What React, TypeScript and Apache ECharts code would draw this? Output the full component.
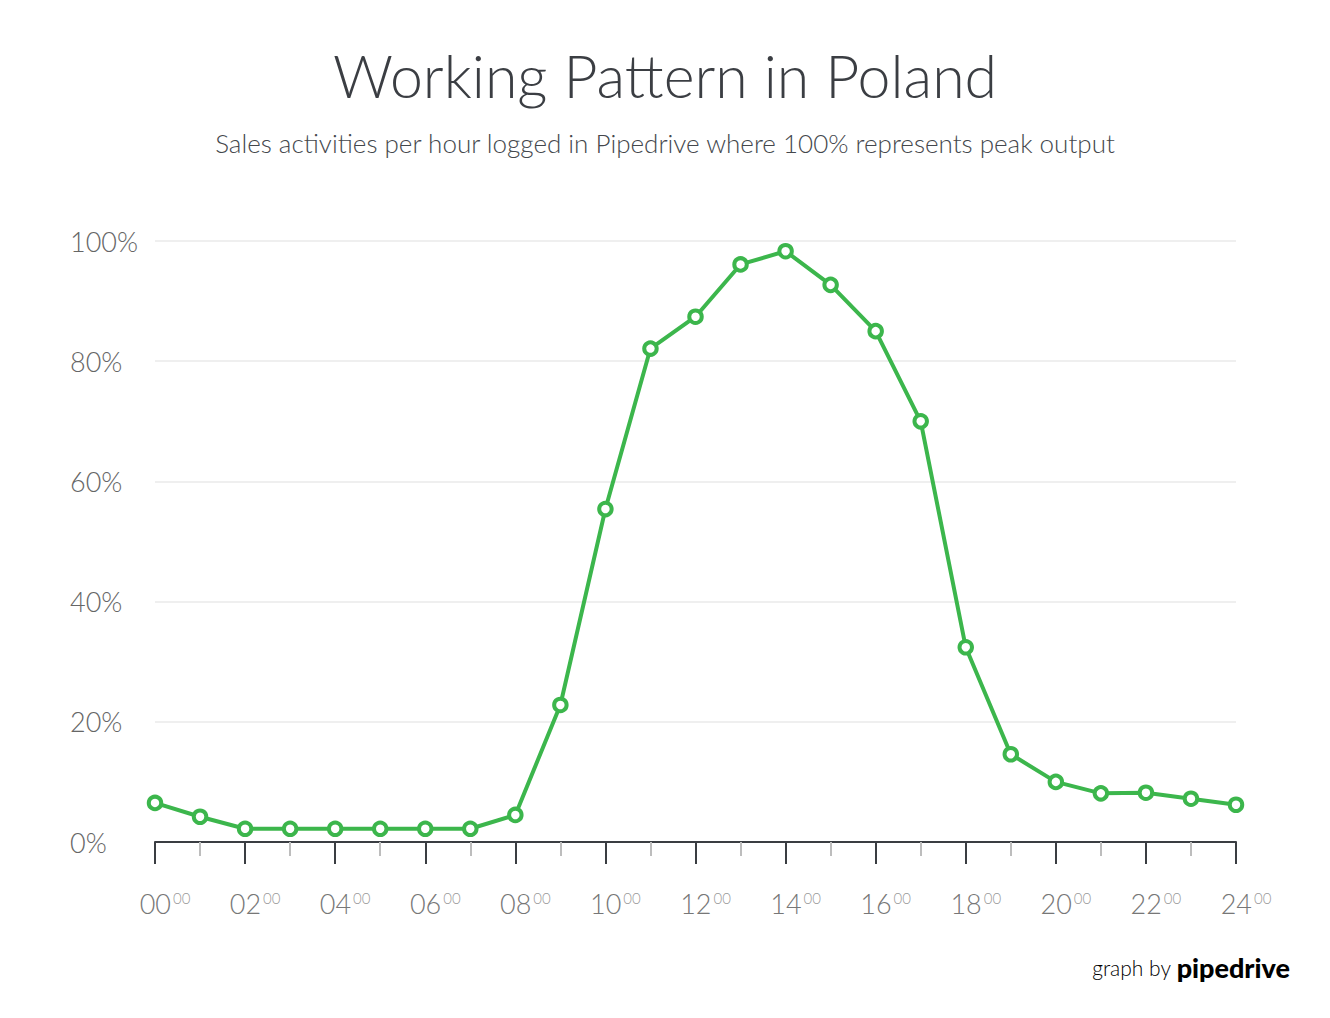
import React, { useEffect, useRef } from "react";
import * as echarts from "echarts";

const hours: number[] = [0, 1, 2, 3, 4, 5, 6, 7, 8, 9, 10, 11, 12, 13, 14, 15, 16, 17, 18, 19, 20, 21, 22, 23, 24];
const activity: number[] = [6.5, 4.2, 2.2, 2.2, 2.2, 2.2, 2.2, 2.2, 4.5, 22.8, 55.4, 82.1, 87.4, 96.1, 98.3, 92.7, 85.0, 70.0, 32.4, 14.6, 10.0, 8.1, 8.2, 7.2, 6.2];
const yTicks: number[] = [0, 20, 40, 60, 80, 100];

const titleText = "Working Pattern in Poland";
const subtitleText = "Sales activities per hour logged in Pipedrive where 100% represents peak output";

const FONT = "Lato";

export default function App() {
  const ref = useRef<HTMLDivElement>(null);
  useEffect(() => {
    document.body.style.margin = "0";
    if (!ref.current) return;
    const chart = echarts.init(ref.current, undefined, { renderer: "svg" });
    const green = "#3cb64c";
    chart.setOption({
      animation: false,
      backgroundColor: "#ffffff",
      textStyle: { fontFamily: FONT },
      title: [
        {
          text: titleText,
          left: "center",
          top: 41,
          textStyle: { fontFamily: FONT, fontWeight: 300, fontSize: 59, color: "#3b3e43" },
        },
        {
          text: subtitleText,
          left: "center",
          top: 125,
          textStyle: { fontFamily: FONT, fontWeight: 300, fontSize: 26, color: "#44474c" },
        },
      ],
      grid: { left: 155, right: 94, top: 241, bottom: 176, containLabel: false },
      xAxis: {
        type: "value",
        min: 0,
        max: 24,
        interval: 2,
        axisLine: { show: true, lineStyle: { color: "#3a3d42", width: 2 } },
        axisTick: { show: true, length: 22, lineStyle: { color: "#3a3d42", width: 2 } },
        minorTick: { show: true, splitNumber: 2, length: 14, lineStyle: { color: "#bdbdbd", width: 2 } },
        splitLine: { show: false },
        axisLabel: {
          margin: 48,
          formatter: (v: number) => {
            const s = String(v).padStart(2, "0");
            return `{a|${s}}{b|00}`;
          },
          rich: {
            a: { fontFamily: FONT, fontWeight: 300, fontSize: 27, color: "#777777", padding: [0, 0, 0, 20] },
            b: { fontFamily: FONT, fontWeight: 300, fontSize: 15, color: "#999999", verticalAlign: "top", padding: [0, 0, 12, 2] },
          },
        },
      },
      yAxis: {
        type: "value",
        min: 0,
        max: 100,
        interval: 20,
        axisLine: { show: false },
        axisTick: { show: false },
        splitLine: {
          show: true,
          lineStyle: { color: "#efefef", width: 2 },
        },
        axisLabel: {
          margin: 85,
          align: "left",
          fontFamily: FONT,
          fontWeight: 300,
          fontSize: 27,
          color: "#666666",
          formatter: (v: number) => (yTicks.includes(v) ? `${v}%` : ""),
        },
      },
      series: [
        {
          type: "line",
          data: hours.map((h, i) => [h, activity[i]]),
          symbol: "circle",
          symbolSize: 12.5,
          showAllSymbol: true,
          lineStyle: { color: green, width: 4 },
          itemStyle: { color: "#ffffff", borderColor: green, borderWidth: 4 },
          z: 5,
        },
      ],
      graphic: [
        {
          type: "text",
          right: 40,
          top: 954,
          style: {
            text: "{g|graph by }{p|pipedrive}",
            rich: {
              g: { fontFamily: FONT, fontWeight: 300, fontSize: 21, color: "#555" },
              p: { fontFamily: FONT, fontWeight: 900, fontSize: 27, color: "#26292c" },
            },
          },
        },
      ],
    });
    return () => chart.dispose();
  }, []);
  return <div ref={ref} style={{ width: 1330, height: 1018 }} />;
}
